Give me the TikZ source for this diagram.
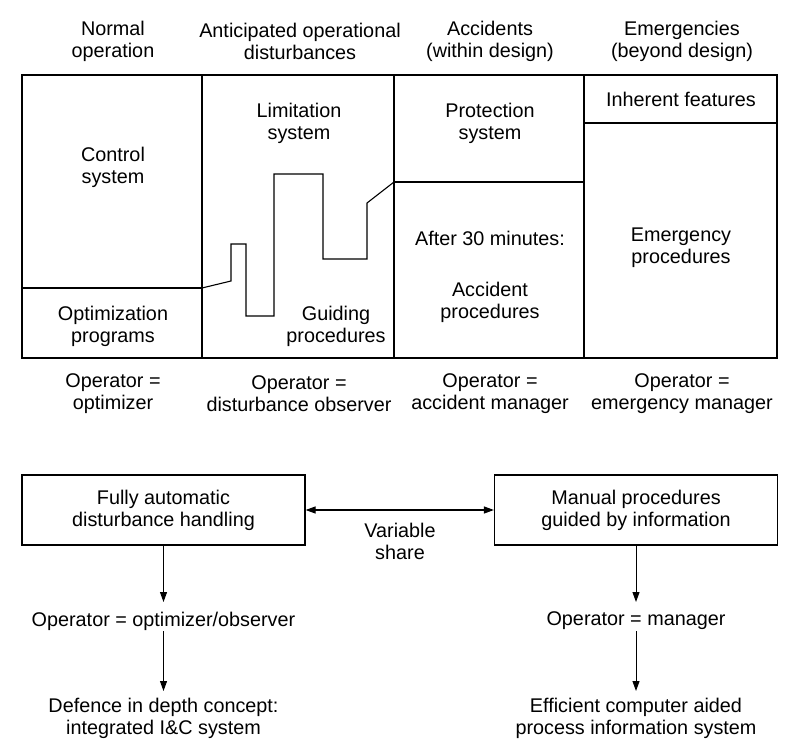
\documentclass[tikz,border=0pt]{standalone}
\usepackage{fontspec}
\setmainfont{Liberation Sans}
\usetikzlibrary{arrows.meta}
\begin{document}
\begin{tikzpicture}[x=1pt,y=-1pt,
  lbl/.style={align=center,font=\fontsize{19.8}{22}\selectfont,inner sep=0pt},
  outer/.style={line width=2.4pt},
  inner/.style={line width=1.5pt},
  stair/.style={line width=1.1pt},
  box/.style={draw,line width=1.2pt,minimum width=283pt,minimum height=70pt,align=center,font=\fontsize{19.8}{22}\selectfont,inner sep=0pt},
  arr/.style={line width=1pt,-{Triangle[length=10pt,width=7pt]}}]
\useasboundingbox (0,0) rectangle (803,754);
% headers
\node[lbl] (h1) at (113,41) {Normal\\operation};
\node[lbl] (h2) at (300,41) {Anticipated operational\\disturbances};
\node[lbl] (h3) at (490,41) {Accidents\\(within design)};
\node[lbl] (h4) at (682,41) {Emergencies\\(beyond design)};
% table
\draw[inner] (22,288) -- (202,288);
\draw[inner] (394,182) -- (584,182);
\draw[inner] (584,123) -- (777,123);
\draw[inner] (202,75) -- (202,358);
\draw[inner] (394,75) -- (394,358);
\draw[inner] (584,75) -- (584,358);
\draw[stair] (202,288) -- (231,281) -- (231,244) -- (246,244) -- (246,316) -- (274,316) -- (274,174) -- (323,174) -- (323,259) -- (367,259) -- (367,203) -- (394,182);
\draw[outer] (22,75) rectangle (777,358);
% cell texts
\node[lbl] (c1) at (113,167) {Control\\system};
\node[lbl] (c2) at (113,326) {Optimization\\programs};
\node[lbl] (c3) at (299,123) {Limitation\\system};
\node[lbl] (c4) at (336,326) {Guiding\\procedures};
\node[lbl] (c5) at (490,123) {Protection\\system};
\node[lbl] (c6) at (490,238) {After 30 minutes:};
\node[lbl] (c7) at (490,302) {Accident\\procedures};
\node[lbl] (c8) at (681,99) {Inherent features};
\node[lbl] (c9) at (681,248) {Emergency\\procedures};
% operator lines
\node[lbl] (o1) at (113,394) {Operator =\\optimizer};
\node[lbl] (o2) at (299,394) {Operator =\\disturbance observer};
\node[lbl] (o3) at (490,394) {Operator =\\accident manager};
\node[lbl] (o4) at (682,394) {Operator =\\emergency manager};
% bottom
\node[box] (b1) at (163.5,510) {Fully automatic\\disturbance handling};
\node[box] (b2) at (636,510) {Manual procedures\\guided by information};
\node[lbl] (vs) at (400,541) {Variable\\share};
\draw[line width=1.2pt,{Triangle[length=10pt,width=7pt]}-{Triangle[length=10pt,width=7pt]}] (b1.east) -- (b2.west);
\node[lbl] (l1) at (163.5,621) {Operator = optimizer/observer};
\node[lbl] (l2) at (163.5,718) {Defence in depth concept:\\integrated I\&C system};
\node[lbl] (r1) at (636,621) {Operator = manager};
\node[lbl] (r2) at (636,718) {Efficient computer aided\\process information system};
\draw[arr] (b1.south) -- (163.5,602);
\draw[arr] (163.5,631) -- (163.5,691);
\draw[arr] (b2.south) -- (636,602);
\draw[arr] (636,631) -- (636,691);
\end{tikzpicture}
\end{document}
